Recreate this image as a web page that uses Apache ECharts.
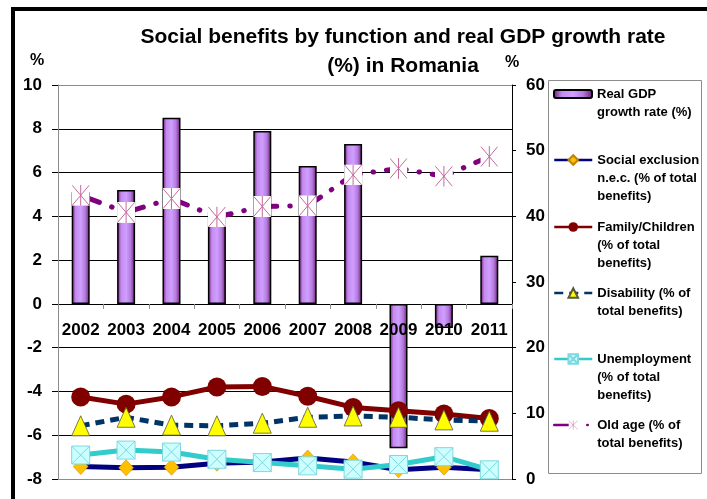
<!DOCTYPE html>
<html>
<head>
<meta charset="utf-8">
<script src="https://cdn.jsdelivr.net/npm/echarts@6/dist/echarts.min.js"></script>
<style>
  html, body { margin: 0; padding: 0; background: #fff; }
  #chart { width: 707px; height: 499px; }
</style>
</head>
<body>
<div id="chart"></div>
<script>
// Romania: real GDP growth (left axis, %) and social benefits by function (right axis, % of total benefits)
const years = ['2002', '2003', '2004', '2005', '2006', '2007', '2008', '2009', '2010', '2011'];
const gdpGrowth = [5.1, 5.2, 8.5, 4.2, 7.9, 6.3, 7.3, -6.6, -1.1, 2.2];
const socialExclusion = [1.9, 1.7, 1.8, 2.4, 2.6, 3.2, 2.6, 1.4, 1.8, 1.4];
const familyChildren = [12.5, 11.4, 12.5, 14.0, 14.1, 12.6, 10.9, 10.4, 9.9, 9.2];
const disability = [8.1, 9.4, 8.2, 8.1, 8.5, 9.4, 9.6, 9.4, 9.0, 8.8];
const unemployment = [3.65, 4.4, 4.1, 3.0, 2.5, 2.0, 1.5, 2.2, 3.4, 1.4];
const oldAge = [43.2, 40.6, 42.7, 39.9, 41.5, 41.6, 46.3, 47.3, 46.1, 49.1];

const leftTicks = { min: -8, max: 10, interval: 2 };
const rightTicks = { min: 0, max: 60, interval: 10 };

const FONT = '"Liberation Sans", Arial, sans-serif';

// plot area
const GRID = { left: 58, right: 195, top: 85, bottom: 20 };
const CHART_H = 499;
const plotH = CHART_H - GRID.top - GRID.bottom;
// shift the category axis up from the bottom edge to the zero line of the left axis
const zeroOffset = -plotH * (0 - leftTicks.min) / (leftTicks.max - leftTicks.min);

const names = {
  gdp: 'Real GDP growth rate (%)',
  se: 'Social exclusion n.e.c. (% of total benefits)',
  fam: 'Family/Children (% of total benefits)',
  dis: 'Disability (% of total benefits)',
  une: 'Unemployment (% of total benefits)',
  old: 'Old age (% of total benefits)'
};
// wrapped legend text; leading blank lines keep the icon level with the first line
const legendText = {
  gdp: '\nReal GDP\ngrowth rate (%)',
  se: '\n\nSocial exclusion\nn.e.c. (% of total\nbenefits)',
  fam: '\n\nFamily/Children\n(% of total\nbenefits)',
  dis: '\nDisability (% of\ntotal benefits)',
  une: '\n\nUnemployment\n(% of total\nbenefits)',
  old: '\nOld age (% of\ntotal benefits)'
};

const oldAgeSvg = '<svg xmlns="http://www.w3.org/2000/svg" width="18" height="21" viewBox="0 0 18 21">' +
  '<rect x="0" y="0" width="18" height="21" fill="#ffffff"/>' +
  '<path d="M0.5,0.5 L17.5,20.5 M17.5,0.5 L0.5,20.5 M9,0 L9,21" stroke="#c46a9c" stroke-width="1" fill="none"/></svg>';
const oldAgeSymbol = 'image://data:image/svg+xml;charset=utf-8,' + encodeURIComponent(oldAgeSvg);

const barGradient = new echarts.graphic.LinearGradient(0, 0, 1, 0, [
  { offset: 0, color: '#6a1a6a' },
  { offset: 0.22, color: '#c48af0' },
  { offset: 0.5, color: '#d09fff' },
  { offset: 0.75, color: '#b47ade' },
  { offset: 1, color: '#6a1a6a' }
]);

const legendTops = { gdp: 67, se: 115, fam: 182, dis: 266, une: 314, old: 398 };
const legends = Object.keys(legendTops).map(function (k) {
  return {
    data: [names[k]],
    left: 553,
    top: legendTops[k],
    orient: 'vertical',
    padding: 0,
    itemWidth: 38,
    itemHeight: k === 'gdp' ? 8 : 12,
    itemGap: 5,
    selectedMode: false,
    lineStyle: { width: 2.5 },
    formatter: function () { return legendText[k]; },
    textStyle: { fontFamily: FONT, fontSize: 13, fontWeight: 'bold', color: '#000', lineHeight: 18 }
  };
});

const splitColors = [];
for (let v = leftTicks.min; v <= leftTicks.max; v += leftTicks.interval) {
  splitColors.push(v === leftTicks.min || v === leftTicks.max ? '#8c8c8c' : '#000000');
}

const option = {
  backgroundColor: '#ffffff',
  animation: false,
  title: {
    text: 'Social benefits by function and real GDP growth rate\n(%) in Romania',
    left: 403,
    top: 23,
    textAlign: 'center',
    padding: 0,
    textStyle: { fontFamily: FONT, fontSize: 21, fontWeight: 'bold', color: '#000', lineHeight: 29 }
  },
  legend: legends,
  grid: { left: GRID.left, right: GRID.right, top: GRID.top, bottom: GRID.bottom, containLabel: false },
  xAxis: {
    type: 'category',
    data: years,
    position: 'bottom',
    offset: zeroOffset,
    z: 10,
    axisLine: { onZero: false, lineStyle: { color: '#000', width: 1 } },
    axisTick: { show: true, length: 5, lineStyle: { color: '#8c8c8c' } },
    axisLabel: { margin: 18, fontFamily: FONT, fontSize: 17, fontWeight: 'bold', color: '#000', interval: 0 },
    splitLine: { show: false }
  },
  yAxis: [
    {
      type: 'value',
      min: leftTicks.min, max: leftTicks.max, interval: leftTicks.interval,
      name: '%',
      nameLocation: 'end',
      nameGap: 16,
      nameTextStyle: { fontFamily: FONT, fontSize: 16, fontWeight: 'bold', color: '#000', padding: [0, 42, 0, 0] },
      axisLine: { show: true, lineStyle: { color: '#8c8c8c' } },
      axisTick: { show: true, length: 6, lineStyle: { color: '#000' } },
      axisLabel: { margin: 16, fontFamily: FONT, fontSize: 17, fontWeight: 'bold', color: '#000' },
      splitLine: { show: true, lineStyle: { color: splitColors, width: 1 } }
    },
    {
      type: 'value',
      min: rightTicks.min, max: rightTicks.max, interval: rightTicks.interval,
      name: '%',
      nameLocation: 'end',
      nameGap: 14,
      nameTextStyle: { fontFamily: FONT, fontSize: 16, fontWeight: 'bold', color: '#000' },
      axisLine: { show: true, lineStyle: { color: '#000' } },
      axisTick: { show: true, length: 4, lineStyle: { color: '#000' } },
      axisLabel: { margin: 14, fontFamily: FONT, fontSize: 17, fontWeight: 'bold', color: '#000' },
      splitLine: { show: false }
    }
  ],
  series: [
    {
      name: names.gdp,
      type: 'bar',
      yAxisIndex: 0,
      data: gdpGrowth,
      barWidth: 18,
      itemStyle: { color: barGradient, borderColor: '#000', borderWidth: 1.5 },
      z: 2
    },
    {
      name: names.se,
      type: 'line',
      yAxisIndex: 1,
      data: socialExclusion,
      symbol: 'diamond',
      symbolSize: [15, 16],
      lineStyle: { color: '#000080', width: 5 },
      itemStyle: { color: '#ffc000', borderColor: '#c08000', borderWidth: 0.5 },
      z: 3
    },
    {
      name: names.fam,
      type: 'line',
      yAxisIndex: 1,
      data: familyChildren,
      symbol: 'circle',
      symbolSize: 19,
      lineStyle: { color: '#800000', width: 5 },
      itemStyle: { color: '#800000', borderColor: '#800000', borderWidth: 0 },
      z: 4
    },
    {
      name: names.dis,
      type: 'line',
      yAxisIndex: 1,
      data: disability,
      symbol: 'triangle',
      symbolSize: [18, 20],
      lineStyle: { color: '#003366', width: 5, type: [9, 6] },
      itemStyle: { color: '#ffff00', borderColor: '#5a5a3a', borderWidth: 0.8 },
      z: 5
    },
    {
      name: names.une,
      type: 'line',
      yAxisIndex: 1,
      data: unemployment,
      symbol: 'path://M0,0H10V10H0Z M0,0L10,10 M10,0L0,10',
      symbolSize: 18,
      symbolKeepAspect: true,
      lineStyle: { color: '#33cccc', width: 5 },
      itemStyle: { color: '#ccffff', borderColor: '#7fd8e0', borderWidth: 1 },
      z: 6
    },
    {
      name: names.old,
      type: 'line',
      yAxisIndex: 1,
      data: oldAge,
      symbol: oldAgeSymbol,
      symbolSize: [18, 21],
      lineStyle: { color: '#800080', width: 5, type: [20, 13, 0.5, 13], cap: 'round' },
      itemStyle: { color: '#800080' },
      z: 7
    }
  ],
  graphic: [
    // legend frame
    {
      type: 'rect',
      shape: { x: 548.5, y: 80.5, width: 153, height: 393 },
      style: { fill: 'none', stroke: '#8c8c8c', lineWidth: 1 },
      silent: true
    },
    // outer frame (left and top edges)
    {
      type: 'rect',
      shape: { x: 11, y: 7, width: 4, height: 492 },
      style: { fill: '#000' },
      silent: true
    },
    {
      type: 'rect',
      shape: { x: 11, y: 7, width: 696, height: 4 },
      style: { fill: '#000' },
      silent: true
    }
  ]
};

const chart = echarts.init(document.getElementById('chart'), null, { renderer: 'canvas' });
chart.setOption(option);
</script>
</body>
</html>
